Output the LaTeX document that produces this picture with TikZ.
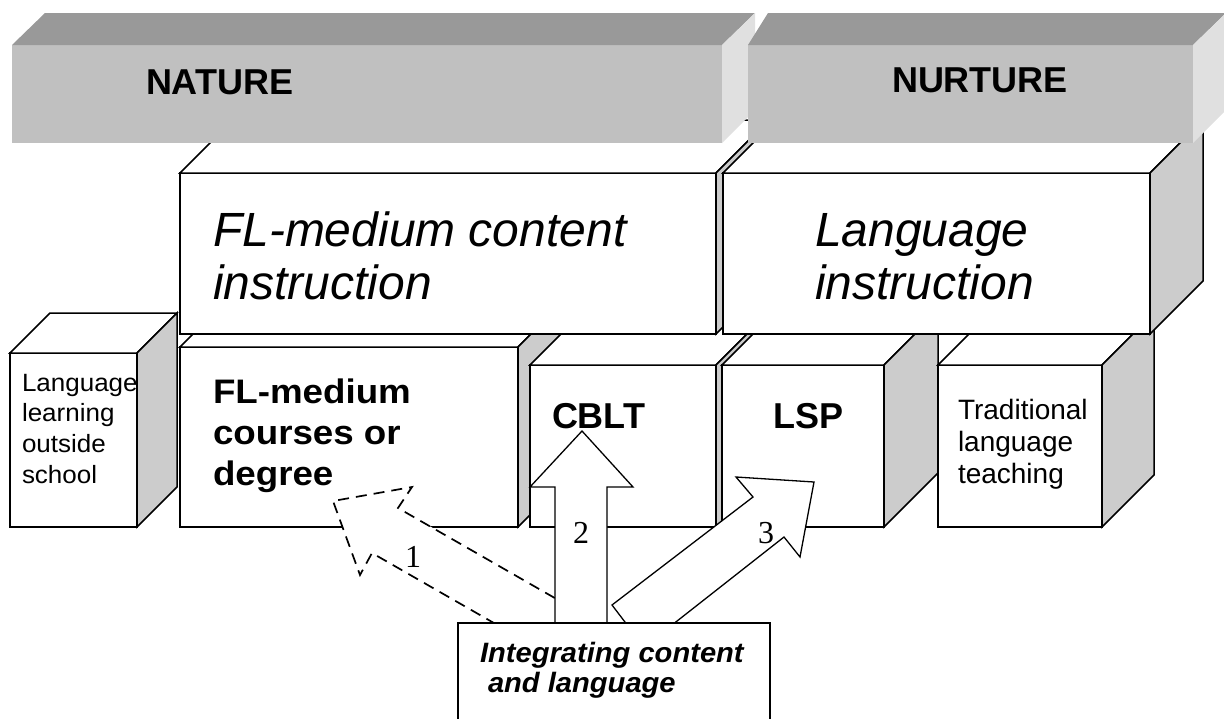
\documentclass[tikz,border=0pt]{standalone}
\usepackage{fontspec}
\setmainfont{Liberation Sans}
\newfontfamily\digitfont{Liberation Serif}
\newfontfamily\wideA[FakeStretch=1.04]{Liberation Sans}
\newfontfamily\wideB[FakeStretch=1.08]{Liberation Sans}
\newfontfamily\wideC[FakeStretch=1.04]{Liberation Sans}
\usetikzlibrary{calc}
\definecolor{bartop}{HTML}{999999}
\definecolor{barfront}{HTML}{C0C0C0}
\definecolor{barside}{HTML}{E0E0E0}
\definecolor{cubeside}{HTML}{CCCCCC}
\tikzset{
  frontface/.style={draw=black, line width=1.5pt, fill=white, inner sep=0pt, outer sep=0pt, anchor=north west},
  face/.style={draw=black, line width=1.5pt},
  barface/.style={fill=barfront, inner sep=0pt, outer sep=0pt, anchor=north west},
  txt/.style={inner sep=0pt, outer sep=0pt, anchor=base west},
  blockarrow/.style={draw=black, line width=1.3pt, fill=white},
  dasharrow/.style={blockarrow, line width=1.7pt, dash pattern=on 11pt off 7pt},
  digit/.style={inner sep=0pt, anchor=base, font=\digitfont\fontsize{32}{32}\selectfont},
}
\newcommand\cubefaces[2]{%
  \draw[face, fill=white] (#1.north west) -- ++(#2,-#2) -- ($(#1.north east)+(#2,-#2)$) -- (#1.north east) -- cycle;
  \draw[face, fill=cubeside] (#1.north east) -- ++(#2,-#2) -- ($(#1.south east)+(#2,-#2)$) -- (#1.south east) -- cycle;
}
\newcommand\stack[1]{\begin{tabular}[t]{@{}l@{}}#1\end{tabular}}
\begin{document}
\begin{tikzpicture}[x=1pt,y=-1pt]
\useasboundingbox (0,0) rectangle (1224,718);
% ---------- bottom row of cubes ----------
\node[frontface, minimum width=127pt, minimum height=174pt] (cA) at (10,353) {};
\cubefaces{cA}{40}
\node[frontface, minimum width=338pt, minimum height=180pt] (cB) at (180,347) {};
\cubefaces{cB}{53}
\node[frontface, minimum width=186pt, minimum height=162pt] (cC) at (530,365) {};
\cubefaces{cC}{53}
\node[frontface, minimum width=162pt, minimum height=162pt] (cD) at (722,365) {};
\cubefaces{cD}{54}
\node[frontface, minimum width=164pt, minimum height=162pt] (cE) at (938,365) {};
\cubefaces{cE}{52}
% ---------- middle boxes ----------
\node[frontface, minimum width=536pt, minimum height=161pt] (mA) at (180,173) {};
\cubefaces{mA}{53}
\node[frontface, minimum width=427pt, minimum height=161pt] (mB) at (723,173) {};
\cubefaces{mB}{53}
% ---------- top bars ----------
\node[barface, minimum width=710pt, minimum height=98pt] (nat) at (12,45) {};
\fill[bartop] (nat.north west) -- ++(33,-32) -- (755,13) -- (nat.north east) -- cycle;
\fill[barside] (nat.north east) -- (755,13) -- (755,110) -- (nat.south east) -- cycle;
\node[barface, minimum width=445pt, minimum height=98pt] (nur) at (748,45) {};
\fill[bartop] (nur.north west) -- (768,13) -- (1226,13) -- (nur.north east) -- cycle;
\fill[barside] (nur.north east) -- (1226,13) -- (1226,110) -- (nur.south east) -- cycle;
% ---------- texts ----------
\node[txt, font=\bfseries\fontsize{36}{40}\selectfont] (tnat) at (146,94) {NATURE};
\node[txt, font=\bfseries\fontsize{36}{40}\selectfont] (tnur) at (892,92) {NURTURE};
\node[txt, font=\itshape\fontsize{48}{53}\selectfont] (tmA) at (213,246) {\stack{FL-medium content\\instruction}};
\node[txt, font=\itshape\fontsize{48}{53}\selectfont] (tmB) at (815,246) {\stack{Language\\instruction}};
\node[txt, font=\wideA\fontsize{25}{30.7}\selectfont] (tcA) at (22,391) {\stack{Language\\learning\\outside\\school}};
\node[txt, font=\wideB\bfseries\fontsize{34}{41}\selectfont] (tcB) at (213,403) {\stack{FL-medium\\courses or\\degree}};
\node[txt, font=\bfseries\fontsize{36}{40}\selectfont] (tcC) at (552,428) {CBLT};
\node[txt, font=\bfseries\fontsize{36}{40}\selectfont] (tcD) at (773,428) {LSP};
\node[txt, font=\fontsize{28}{32.3}\selectfont] (tcE) at (958,419) {\stack{Traditional\\language\\teaching}};
% ---------- arrows ----------
\coordinate (tip1) at (333,501);
\coordinate (tip2) at (582,431);
\coordinate (tip3) at (814,482);
\draw[dasharrow] (574,669) -- (372,553) -- (360,575) -- (tip1) -- (412,487) -- (398,508) -- (600,624) -- cycle;
\draw[blockarrow] (555,650) -- (555,487) -- (530,487) -- (tip2) -- (633,487) -- (607,487) -- (607,650) -- cycle;
\draw[blockarrow] (644,647) -- (612,605) -- (753,497) -- (736,477) -- (tip3) -- (800,557) -- (784,537) -- cycle;
\node[digit] (n1) at (413,567) {1};
\node[digit] (n2) at (581,543) {2};
\node[digit] (n3) at (766,543) {3};
% ---------- source box ----------
\node[frontface, minimum width=312pt, minimum height=120pt] (ic) at (458,623) {};
\node[txt, font=\wideC\bfseries\itshape\fontsize{28}{30}\selectfont] (tic) at (480,662) {\stack{Integrating content\\\hspace{8pt}and language}};
\end{tikzpicture}
\end{document}
